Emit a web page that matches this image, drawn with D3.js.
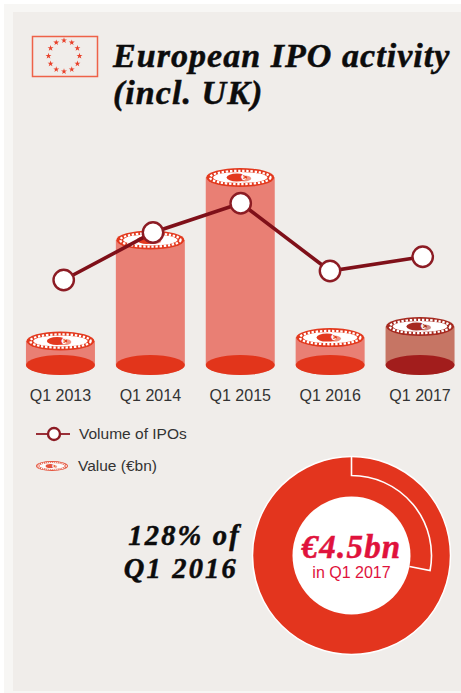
<!DOCTYPE html>
<html><head><meta charset="utf-8">
<script src="https://cdn.jsdelivr.net/npm/d3@7"></script>
<style>html,body{margin:0;padding:0;background:#fff}svg{display:block}
.t{font-family:"Liberation Serif",serif;font-weight:700;font-style:italic;fill:#0c0c0c;stroke:#0c0c0c;stroke-width:.5px}
.s{font-family:"Liberation Sans",Arial,sans-serif;fill:#333}
</style></head><body>
<svg id="c" width="461" height="693"></svg>
<script>
const categories=["Q1 2013","Q1 2014","Q1 2015","Q1 2016","Q1 2017"];
const valueBn=[2.8,14.6,21.9,3.2,4.5];
const volumeIPOs=[34,53,64.7,37.6,43.3];
const highlighted=["Q1 2017"];
const ratioPct=128;
const titleLines=["European IPO activity","(incl. UK)"];
const noteLines=["128% of","Q1 2016"];
const svg=d3.select("#c");
svg.append("rect").attr("x",4).attr("y",4).attr("width",457).attr("height",689).attr("fill","#f7f6f4");
svg.append("rect").attr("x",13).attr("y",12).attr("width",448).attr("height",679).attr("fill","#f0edea");
const flag=svg.append("g");
flag.append("rect").attr("x",32.5).attr("y",36.5).attr("width",65).attr("height",40).attr("fill","none").attr("stroke","#ee6248").attr("stroke-width",1.5);
const star=d3.symbol().type(d3.symbolStar).size(11);
d3.range(12).forEach(i=>{const a=i/12*2*Math.PI;
 flag.append("path").attr("d",star()).attr("fill","#e8412a").attr("transform",`translate(${64+15.5*Math.sin(a)},${56-15.5*Math.cos(a)})`);});
const tt=svg.append("g");
titleLines.forEach((l,i)=>tt.append("text").attr("class","t").attr("x",113).attr("y",[67,104][i]).attr("font-size",34).attr("letter-spacing",1.05).text(l));
const x=d3.scaleBand().domain(categories).range([15.5,465]).paddingInner(0);
const cx=c=>x(c)+x.bandwidth()/2;
const y=d3.scaleLinear().domain([0,21.9]).range([365,177.5]);
const xLine=d3.scaleOrdinal().domain(categories).range([63.7,153,240.7,330,422.7]);
const yLine=d3.scaleLinear().domain([0,65]).range([365,202.5]);
const RX=34.5,RY=10;
function coin(g,px,py,rx,ry,dark){
 const rim=dark?"#a62a20":"#e3391e";
 g.append("ellipse").attr("cx",px).attr("cy",py).attr("rx",rx).attr("ry",ry).attr("fill",rim);
 g.append("ellipse").attr("cx",px).attr("cy",py).attr("rx",rx*.89).attr("ry",ry*.7).attr("fill","none").attr("stroke","#fff").attr("stroke-width",ry*.24).attr("stroke-dasharray",`${rx*.07} ${rx*.05}`);
 g.append("ellipse").attr("cx",px).attr("cy",py).attr("rx",rx*.8).attr("ry",ry*.58).attr("fill","#fff");
 g.append("ellipse").attr("cx",px-rx*.1).attr("cy",py).attr("rx",rx*.3).attr("ry",ry*.42).attr("fill",rim);
 g.append("ellipse").attr("cx",px+rx*.12).attr("cy",py+ry*.1).attr("rx",rx*.2).attr("ry",ry*.32).attr("fill",rim).attr("opacity",.55);
 g.append("text").attr("x",px+rx*.1).attr("y",py+ry*.3).attr("text-anchor","middle").attr("font-family","Liberation Sans").attr("font-weight",700).attr("font-size",ry*1.0).attr("fill","#fff").text("€");
}
const bars=svg.append("g");
categories.forEach((c,i)=>{
 const px=cx(c),top=y(valueBn[i]),base=y(0),dark=highlighted.includes(c);
 const g=bars.append("g");
 g.append("path").attr("d",`M${px-RX},${top}V${base}A${RX},${RY} 0 0 0 ${px+RX},${base}V${top}Z`).attr("fill",dark?"#c67564":"#e97f74");
 g.append("ellipse").attr("cx",px).attr("cy",base).attr("rx",RX).attr("ry",RY).attr("fill",dark?"#a21d1c":"#e2351b");
 coin(g,px,top,RX-.5,RY-.5,dark);
});
const pts=categories.map((c,i)=>[xLine(c),yLine(volumeIPOs[i])]);
svg.append("path").attr("d",d3.line()(pts)).attr("fill","none").attr("stroke","#7f1019").attr("stroke-width",3.6);
svg.append("g").selectAll("circle").data(pts).join("circle").attr("cx",d=>d[0]).attr("cy",d=>d[1]).attr("r",10.2).attr("fill","#fff").attr("stroke","#8c1c24").attr("stroke-width",2.4);
const ax=d3.axisBottom(x).tickSize(0).tickPadding(0);
const axG=svg.append("g").attr("transform","translate(0,390)").call(ax);
axG.select(".domain").remove();
axG.selectAll("text").attr("class","s").attr("font-size",16).attr("fill","#333").attr("dy","0.71em");
const lg=svg.append("g");
lg.append("line").attr("x1",36).attr("x2",70).attr("y1",434).attr("y2",434).attr("stroke","#9a3038").attr("stroke-width",2.2);
lg.append("circle").attr("cx",54).attr("cy",434).attr("r",6).attr("fill","#fff").attr("stroke","#8c1c24").attr("stroke-width",2.4);
lg.append("text").attr("class","s").attr("x",79).attr("y",439).attr("font-size",15.5).text("Volume of IPOs");
coin(lg.append("g").attr("opacity",.85),52,466,16,5,false);
lg.append("text").attr("class","s").attr("x",78).attr("y",471).attr("font-size",15.5).text("Value (€bn)");
const dn=svg.append("g").attr("transform","translate(351.5,555.5)");
const R=99,Rin=59,Rmid=80;
dn.append("circle").attr("r",R).attr("fill","#e3351e").attr("stroke","#fff").attr("stroke-width",1.5);
dn.append("circle").attr("r",Rin).attr("fill","#fff");
const ang=(ratioPct-100)/100*2*Math.PI;
const pt=(r,a)=>[r*Math.sin(a),-r*Math.cos(a)];
const p=d3.path();p.moveTo(...pt(R,0));p.lineTo(...pt(Rmid,0));
p.arc(0,0,Rmid,-Math.PI/2,ang-Math.PI/2);p.lineTo(...pt(Rin,ang));
dn.append("path").attr("d",p.toString()).attr("fill","none").attr("stroke","#fff").attr("stroke-width",1.6);
dn.append("text").attr("class","t").attr("text-anchor","middle").attr("y",2.5).attr("font-size",33).attr("letter-spacing",1.2).style("fill","#e0123c").style("stroke","#e0123c").text("€4.5bn");
dn.append("text").attr("class","s").attr("text-anchor","middle").attr("y",22).attr("font-size",16).style("fill","#e0123c").text("in Q1 2017");
noteLines.forEach((l,i)=>svg.append("text").attr("class","t").attr("x",[241,238][i]).attr("y",[545,578][i]).attr("text-anchor","end").attr("font-size",28.5).attr("letter-spacing",2.2).text(l));
</script></body></html>
